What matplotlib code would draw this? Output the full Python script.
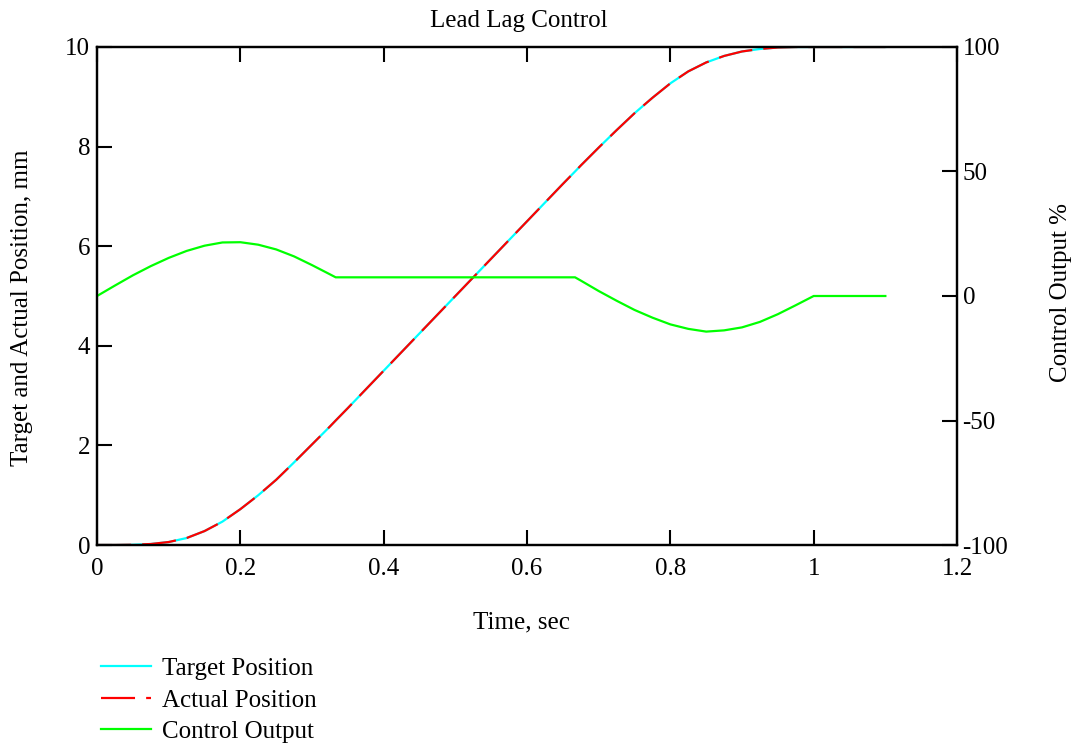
import matplotlib
matplotlib.use("Agg")
import matplotlib.pyplot as plt
from matplotlib.lines import Line2D

# =========================================================
# Data
# =========================================================
time_s = [0, 0.025, 0.05, 0.075, 0.1, 0.125, 0.15, 0.175, 0.2, 0.225,
          0.25, 0.275, 0.3, 0.325, 0.333, 0.35, 0.4, 0.45, 0.5, 0.55,
          0.6, 0.65, 0.667, 0.675, 0.7, 0.725, 0.75, 0.775, 0.8, 0.825,
          0.85, 0.875, 0.9, 0.925, 0.95, 0.975, 1.0, 1.1]

target_pos = [0, 0.0, 0.005, 0.02, 0.06, 0.14, 0.28, 0.47, 0.72, 1.0,
              1.31, 1.66, 2.02, 2.38, 2.5, 2.75, 3.5, 4.25, 5.0, 5.75,
              6.5, 7.25, 7.5, 7.62, 7.98, 8.33, 8.67, 8.98, 9.27, 9.51,
              9.69, 9.82, 9.91, 9.96, 9.99, 10.0, 10.0, 10.0]

actual_pos = list(target_pos)

control_out = [0, 4.2, 8.3, 12.0, 15.3, 18.1, 20.2, 21.5, 21.6, 20.6,
               18.7, 15.9, 12.4, 8.7, 7.5, 7.5, 7.5, 7.5, 7.5, 7.5,
               7.5, 7.5, 7.5, 6.2, 2.0, -1.9, -5.6, -8.7, -11.4, -13.2,
               -14.3, -13.8, -12.6, -10.4, -7.3, -3.7, 0.0, 0.0]

x_ticks = [0, 0.2, 0.4, 0.6, 0.8, 1.0, 1.2]
x_ticklabels = ["0", "0.2", "0.4", "0.6", "0.8", "1", "1.2"]
left_ticks = [0, 2, 4, 6, 8, 10]
right_ticks = [-100, -50, 0, 50, 100]

# =========================================================
# Style
# =========================================================
plt.rcParams['font.family'] = ['Liberation Serif', 'DejaVu Serif']
plt.rcParams['axes.unicode_minus'] = False
plt.rcParams['lines.scale_dashes'] = False
fs = 18

fig = plt.figure(figsize=(10.77, 7.47), dpi=100)
ax = fig.add_axes([0.0901, 0.2704, 0.7985, 0.6667])
ax2 = ax.twinx()

l_target, = ax.plot(time_s, target_pos, color='#00ffff', lw=1.6, zorder=2)
l_actual, = ax.plot(time_s, actual_pos, color='#ff0000', lw=1.6, zorder=3)
l_actual.set_dashes([24.5, 8])
l_ctrl, = ax2.plot(time_s, control_out, color='#00ff00', lw=1.6)

ax.set_xlim(0, 1.2)
ax.set_ylim(0, 10)
ax2.set_ylim(-100, 100)

ax.set_xticks(x_ticks)
ax.set_xticklabels(x_ticklabels)
ax.set_yticks(left_ticks)
ax.set_yticklabels([str(v) for v in left_ticks])
ax2.set_yticks(right_ticks)
ax2.set_yticklabels([str(v) for v in right_ticks])

ax.tick_params(axis='x', direction='in', length=11, width=1.5, top=True,
               bottom=True, labelsize=fs, pad=9)
ax.tick_params(axis='y', direction='in', length=11, width=1.5, left=True,
               right=False, labelsize=fs, pad=5)
ax2.tick_params(axis='y', direction='in', length=11, width=1.5, labelsize=fs, pad=4)

for a in (ax, ax2):
    for s in a.spines.values():
        s.set_linewidth(1.6)

fig.text(0.482, 0.972, "Lead Lag Control", ha='center', va='center', fontsize=fs)
fig.text(0.484, 0.167, "Time, sec", ha='center', va='center', fontsize=fs)
fig.text(0.020, 0.588, "Target and Actual Position, mm", ha='center', va='center',
         rotation=90, fontsize=fs)
fig.text(0.985, 0.609, "Control Output %", ha='center', va='center',
         rotation=90, fontsize=fs)

handles = [Line2D([], [], color='#00ffff', lw=1.6),
           Line2D([], [], color='#ff0000', lw=1.6, dashes=[24.5, 8]),
           Line2D([], [], color='#00ff00', lw=1.6)]
fig.legend(handles, ["Target Position", "Actual Position", "Control Output"],
           loc='upper left', bbox_to_anchor=(0.0938, 0.1196), frameon=False,
           fontsize=fs, handlelength=2.0, handletextpad=0.44,
           labelspacing=0.36, borderaxespad=0, borderpad=0)

fig.savefig("out.png", dpi=100)
